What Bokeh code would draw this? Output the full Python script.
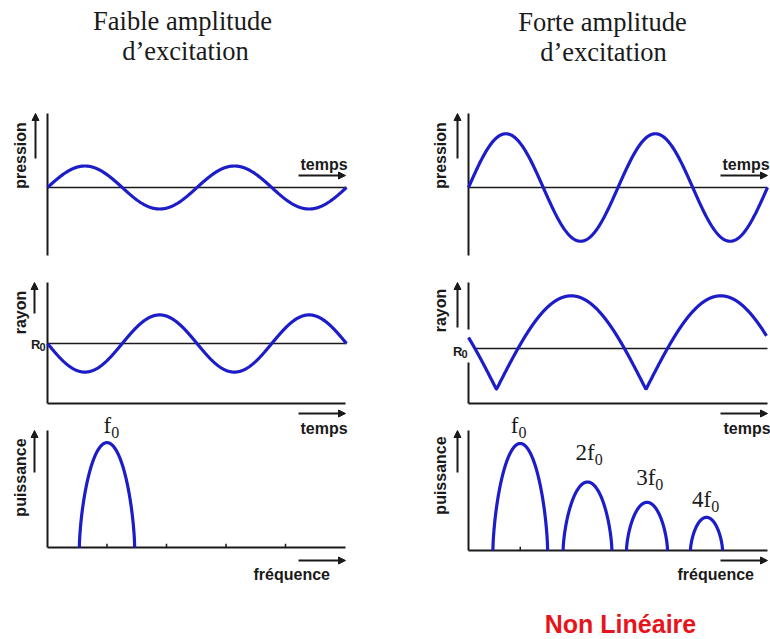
import numpy as np
from bokeh.plotting import figure
from bokeh.models import Range1d, Arrow, NormalHead
from bokeh.core.properties import value
from bokeh.embed import file_html
from bokeh.resources import INLINE

# ---------------- data ----------------
title_left = ["Faible amplitude", "d\u2019excitation"]
title_right = ["Forte amplitude", "d\u2019excitation"]
footer_text = "Non Lin\u00e9aire"

lbl_pression = "pression"
lbl_rayon = "rayon"
lbl_puissance = "puissance"
lbl_temps = "temps"
lbl_frequence = "fr\u00e9quence"
lbl_r0 = "R"
lbl_sub = "0"

# pressure (sinusoids): amplitude in arbitrary units, number of periods shown
pression_amplitude = [1.0, 2.5]          # faible, forte
pression_periods = [2.0, 2.0]

# radius
rayon_left_amplitude = 1.33              # linear response (-sin)
rayon_left_periods = 2.0
rayon_right_min = -1.9                   # cusp depth below R0
rayon_right_max = 2.45                   # crest above R0
rayon_right_cusp = 0.187                 # phase of first cusp (periods)
rayon_right_periods = 1.993
rayon_right_r0_start = 0.05

# power spectra (frequency in units of f0, power normalised)
spec_left_centre = [1.0]
spec_left_width = [0.93]
spec_left_height = [0.98]
spec_left_label = ["f"]
spec_left_ticks = [1.0, 2.0, 3.0, 4.0]

spec_right_centre = [0.87, 2.0, 3.0, 4.0]
spec_right_width = [0.92, 0.82, 0.69, 0.54]
spec_right_height = [1.0, 0.64, 0.45, 0.31]
spec_right_label = ["f", "2f", "3f", "4f"]
spec_right_ticks = [0.87]

# ---------------- layout (positions / styles) ----------------
W, H = 770, 639
OX, OY = 0, 0
BLUE = "#1c1cc8"
INK = "#1a1a1a"
SERIF = value("Liberation Serif")
SANS = value("Liberation Sans")

p = figure(width=W, height=H, x_range=Range1d(OX, OX + W), y_range=Range1d(OY + H, OY),
           output_backend="svg", toolbar_location=None,
           x_axis_location=None, y_axis_location=None, min_border=0)
p.grid.visible = False
p.outline_line_color = None
p.background_fill_color = "white"
p.border_fill_color = "white"

# panel geometry: origin pixel and pixels per data unit
geom = {
    "p1": (47, 187, 149.5, 21.5),
    "p2": (468, 187, 149.5, 21.5),
    "p3": (47, 343, 149.5, 21.5),
    "p4": (468, 348, 149.5, 21.5),
    "p5": (47, 547, 59.5, 107.0),
    "p6": (468, 550, 59.5, 107.0),
}
xr, yr = {}, {}
for k, (x0, y0, sx, sy) in geom.items():
    xr[k] = Range1d((OX - x0) / sx, (OX + W - x0) / sx)
    yr[k] = Range1d((y0 - (OY + H)) / sy, (y0 - OY) / sy)
p.extra_x_ranges = xr
p.extra_y_ranges = yr


def rn(k):
    return dict(x_range_name=k, y_range_name=k)


# ---------- titles ----------
p.text(x=[182, 185], y=[20.5, 50.5], text=title_left, text_font=SERIF, text_font_size="26.5px",
       text_color=INK, text_align="center", text_baseline="middle")
p.text(x=[602, 603], y=[21.5, 51.5], text=title_right, text_font=SERIF, text_font_size="26.5px",
       text_color=INK, text_align="center", text_baseline="middle")

# ---------- axes frames (decoration, pixel coords) ----------
ax_kw = dict(line_color=INK, line_width=2)
p.segment(x0=[47, 468, 47, 468, 468, 47, 468], y0=[113, 113, 282, 282, 362, 430, 430],
          x1=[47, 468, 47, 468, 468, 47, 468], y1=[255, 255, 403, 329, 403, 547, 550], **ax_kw)
p.segment(x0=[47, 468, 47, 468], y0=[403, 403, 547, 550],
          x1=[345, 767, 345, 767], y1=[403, 403, 547, 550], **ax_kw)

up_x = [35, 457, 34, 457, 34, 457]
up_y0 = [158, 158, 313, 327, 472, 472]
up_y1 = [113, 113, 282, 282, 430, 430]
for xa, ya0, ya1 in zip(up_x, up_y0, up_y1):
    p.add_layout(Arrow(end=NormalHead(size=7, fill_color=INK, line_color=INK),
                       x_start=xa, y_start=ya0, x_end=xa, y_end=ya1,
                       line_color=INK, line_width=2))
rt_x0 = [298, 720, 298, 720, 298, 720]
rt_x1 = [345, 767, 345, 767, 345, 767]
rt_y = [175, 175, 413, 413, 560, 560]
for xa0, xa1, ya in zip(rt_x0, rt_x1, rt_y):
    p.add_layout(Arrow(end=NormalHead(size=7, fill_color=INK, line_color=INK),
                       x_start=xa0, y_start=ya, x_end=xa1, y_end=ya,
                       line_color=INK, line_width=2))

lab_kw = dict(text_font=SANS, text_font_style="bold", text_font_size="16px", text_color=INK)
p.text(x=[20, 440, 20, 440, 20, 440], y=[155, 155, 312, 310, 477, 475],
       text=[lbl_pression, lbl_pression, lbl_rayon, lbl_rayon, lbl_puissance, lbl_puissance],
       angle=np.pi / 2, text_align="center", text_baseline="middle", **lab_kw)
p.text(x=[300, 722, 300, 723], y=[164, 164, 428, 428], text=[lbl_temps] * 4,
       text_align="left", text_baseline="middle", **lab_kw)
p.text(x=[253, 677], y=[574, 574], text=[lbl_frequence] * 2,
       text_align="left", text_baseline="middle", **lab_kw)
p.text(x=[40, 462], y=[343.5, 350.5], text=[lbl_r0] * 2, text_align="right",
       text_baseline="middle", text_font=SANS, text_font_style="bold",
       text_font_size="13px", text_color=INK)
p.text(x=[39, 461], y=[346.5, 353.5], text=[lbl_sub] * 2, text_align="left",
       text_baseline="middle", text_font=SANS, text_font_style="bold",
       text_font_size="11px", text_color=INK)

# ---------- pressure ----------
for k, amp, per in (("p1", pression_amplitude[0], pression_periods[0]),
                    ("p2", pression_amplitude[1], pression_periods[1])):
    p.line([0, per], [0, 0], line_color=INK, line_width=1.6, **rn(k))
    t = np.linspace(0, per, 800)
    p.line(t, amp * np.sin(2 * np.pi * t), line_color=BLUE, line_width=3.2, **rn(k))

# ---------- radius ----------
p.line([0, rayon_left_periods], [0, 0], line_color=INK, line_width=1.6, **rn("p3"))
t = np.linspace(0, rayon_left_periods, 800)
p.line(t, -rayon_left_amplitude * np.sin(2 * np.pi * t), line_color=BLUE, line_width=3.2, **rn("p3"))

p.line([rayon_right_r0_start, 2.0], [0, 0], line_color=INK, line_width=1.6, **rn("p4"))
t = np.linspace(0, rayon_right_periods, 1200)
r = rayon_right_min + (rayon_right_max - rayon_right_min) * np.abs(np.sin(np.pi * (t - rayon_right_cusp)))
p.line(t, r, line_color=BLUE, line_width=3.2, **rn("p4"))

# ---------- spectra ----------
u = np.linspace(-1, 1, 300)
shape = np.clip(1 - u ** 2, 0, None) ** 0.65


def spectrum(k, centres, widths, heights, labels, ticks, lab_dx, lab_dy):
    p.segment(x0=ticks, y0=[0] * len(ticks), x1=ticks, y1=[0.035] * len(ticks),
              line_color=INK, line_width=1.5, **rn(k))
    for c, w, h in zip(centres, widths, heights):
        p.line(c + u * w / 2, h * shape, line_color=BLUE, line_width=3.2, **rn(k))
    lx = [c + d for c, d in zip(centres, lab_dx)]
    ly = [h + d for h, d in zip(heights, lab_dy)]
    p.text(x=lx, y=ly, text=labels, text_align="right", text_baseline="middle",
           y_offset=-8, text_font=SERIF, text_font_size="23px", text_color=INK, **rn(k))
    p.text(x=lx, y=ly, text=[lbl_sub] * len(labels), text_align="left", text_baseline="middle",
           y_offset=-1.5, text_font=SERIF, text_font_size="16px", text_color=INK, **rn(k))


spectrum("p5", spec_left_centre, spec_left_width, spec_left_height, spec_left_label,
         spec_left_ticks, [0.07], [0.085])
spectrum("p6", spec_right_centre, spec_right_width, spec_right_height, spec_right_label,
         spec_right_ticks, [-0.03, 0.12, 0.14, 0.08], [0.093, 0.2, 0.157, 0.09])

# ---------- footer ----------
p.text(x=[620], y=[623], text=[footer_text], text_align="center", text_baseline="middle",
       text_font=SANS, text_font_style="bold", text_font_size="25px", text_color="#e8141c")

open("out.html", "w").write(file_html(p, INLINE))
